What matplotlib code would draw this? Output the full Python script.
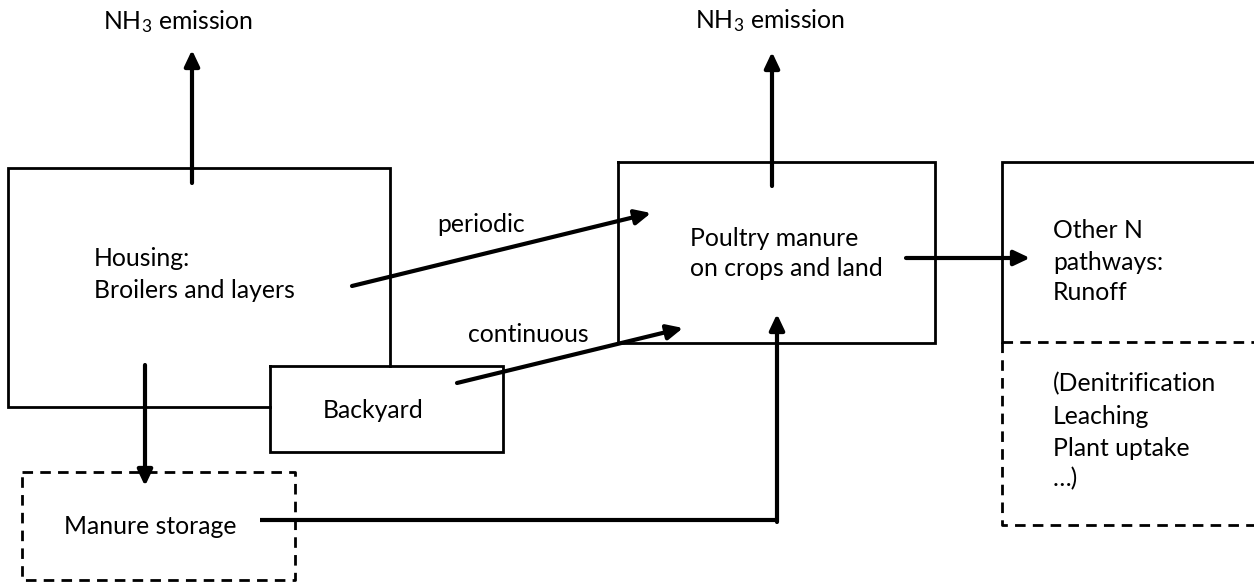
import matplotlib
matplotlib.use("Agg")
import matplotlib.pyplot as plt

plt.rcParams['font.family'] = ['Lato', 'DejaVu Sans']
plt.rcParams['mathtext.default'] = 'regular'

W, H = 1254, 583
FS = 17.8
BOX_LW = 2.0
ARROW_LW = 3.0
DASH = (0, (3.8, 2.6))

# Labels (text, x-left, y-center) in pixel space
labels = [
    ("NH$_3$ emission", 103, 22),
    ("NH$_3$ emission", 695, 21),
    ("Housing:", 94, 258),
    ("Broilers and layers", 94, 290),
    ("Backyard", 323, 411),
    ("Manure storage", 64, 527),
    ("periodic", 437, 224),
    ("continuous", 468, 334),
    ("Poultry manure", 690, 238),
    ("on crops and land", 690, 269),
    ("Other N", 1053, 230),
    ("pathways:", 1053, 262),
    ("Runoff", 1053, 293),
    ("(Denitrification", 1053, 384),
    ("Leaching", 1053, 416),
    ("Plant uptake", 1053, 448),
    ("\u2026)", 1053, 479),
]

# Solid outline segments (polylines)
solid_paths = [
    [(390, 366), (390, 168), (8, 168), (8, 407), (270, 407)],   # Housing
    [(270, 366), (503, 366), (503, 452), (270, 452), (270, 366)],  # Backyard
    [(618, 162), (935, 162), (935, 343), (618, 343), (618, 162)],  # Poultry manure
    [(1254, 162), (1002, 162), (1002, 342)],                     # Other N
]
# Dashed segments
dashed_paths = [
    [(22, 472), (295, 472), (295, 580), (22, 580), (22, 472)],    # Manure storage
    [(1002, 342), (1254, 342)],
    [(1002, 342), (1002, 525), (1254, 525)],
]
# Arrows (start, tip)
arrows = [
    ((192, 183), (192, 50)),
    ((772, 186), (772, 52)),
    ((145, 365), (145, 486)),
    ((352, 286), (651, 213)),
    ((457, 383), (683, 328)),
    ((906, 258), (1030, 258)),
    ((777, 522), (777, 314)),
]
# Plain thick connector
connectors = [
    [(260, 520), (779, 520)],
]

fig = plt.figure(figsize=(W / 100, H / 100), dpi=100)
ax = fig.add_axes([0, 0, 1, 1])
ax.set_xlim(0, W)
ax.set_ylim(H, 0)
ax.axis('off')

for p in solid_paths:
    xs, ys = zip(*p)
    ax.plot(xs, ys, color='black', lw=BOX_LW, solid_joinstyle='miter',
            solid_capstyle='projecting')
for p in dashed_paths:
    xs, ys = zip(*p)
    ax.plot(xs, ys, color='black', lw=BOX_LW, linestyle=DASH)
for p in connectors:
    xs, ys = zip(*p)
    ax.plot(xs, ys, color='black', lw=ARROW_LW, solid_capstyle='butt')

for (s, t) in arrows:
    ax.annotate('', xy=t, xytext=s,
                arrowprops=dict(arrowstyle='-|>,head_length=0.95,head_width=0.45',
                                lw=ARROW_LW, color='black', mutation_scale=10,
                                shrinkA=0, shrinkB=0))

for txt, x, y in labels:
    ax.text(x, y, txt, ha='left', va='center', fontsize=FS, color='black')

fig.savefig('out.png', dpi=100)
